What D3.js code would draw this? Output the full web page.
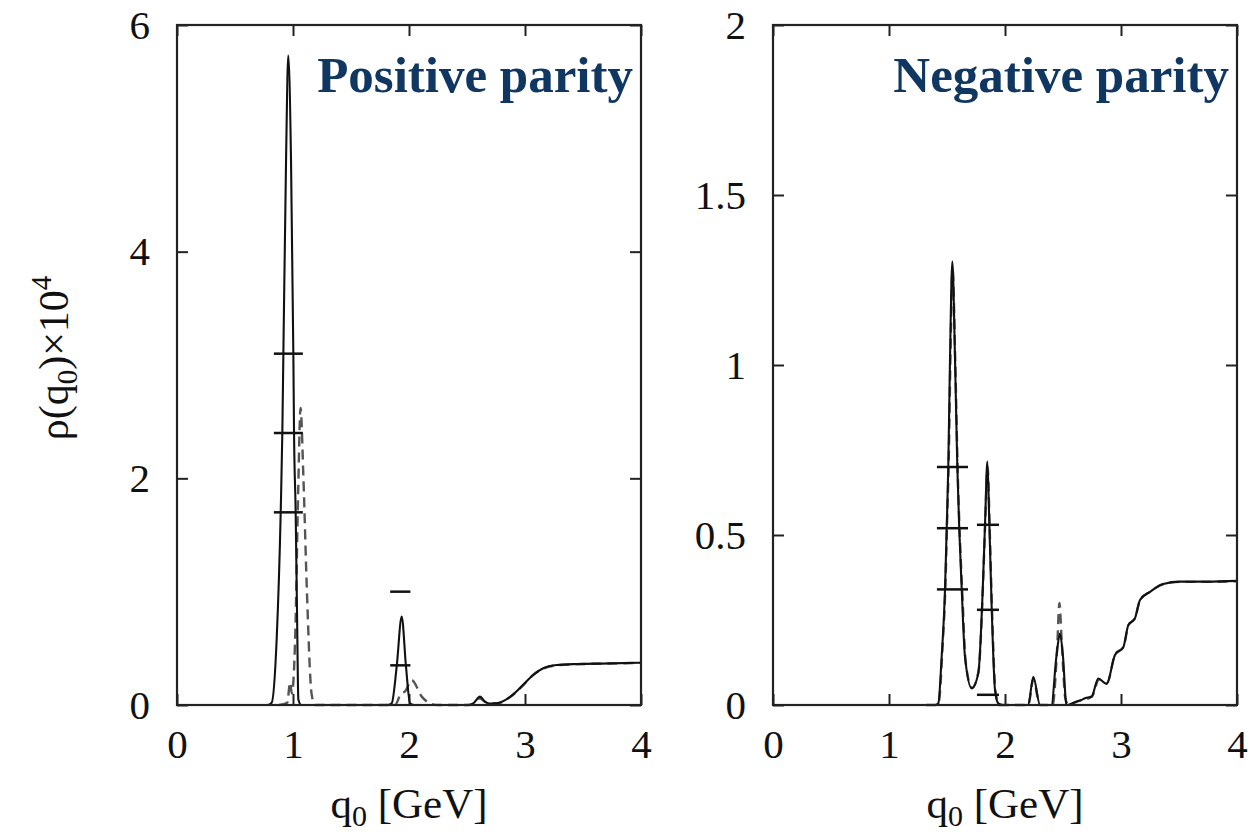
<!DOCTYPE html>
<html>
<head>
<meta charset="utf-8">
<script src="https://cdn.jsdelivr.net/npm/d3@7/dist/d3.min.js"></script>
<style>
  html, body { margin: 0; padding: 0; background: #fff; }
  svg { display: block; }
  .tick text { font-family: "Liberation Serif", "DejaVu Serif", serif; font-size: 41px; fill: #111; }
  .axis path.domain { display: none; }
  .axis line { stroke: #222; stroke-width: 2px; }
</style>
</head>
<body>
<svg id="chart" width="1256" height="837"></svg>
<script>
// Spectral function rho(q0) x 10^4 versus q0 [GeV], positive and negative parity channels.

const xTicks = [0, 1, 2, 3, 4];
const posYTicks = [0, 2, 4, 6];
const negYTicks = [0, 0.5, 1, 1.5, 2];
const posTitle = "Positive parity";
const negTitle = "Negative parity";

// Positive parity: solid spectrum [q0, rho]
const posSolid = [
  [0.60, 0], [0.78, 0], [0.816, 0.02], [0.86, 0.6], [0.894, 1.7], [0.908, 2.4], [0.917, 3.1],
  [0.94, 4.8], [0.959, 5.73], [0.983, 4.8], [1.003, 3.1], [1.009, 2.4], [1.023, 1.7],
  [1.035, 0.8], [1.046, 0.05], [1.07, 0], [1.82, 0], [1.851, 0.015], [1.894, 0.34],
  [1.937, 0.78], [1.974, 0.34], [2.009, 0.015], [2.05, 0], [2.50, 0], [2.554, 0.015],
  [2.612, 0.074], [2.655, 0.03], [2.70, 0.012], [2.756, 0.015], [2.87, 0.07], [2.986, 0.18],
  [3.07, 0.265], [3.157, 0.324], [3.273, 0.353], [3.446, 0.362], [3.733, 0.367], [4.0, 0.373]
];
// Positive parity: dashed spectrum
const posDashed = [
  [0.88, 0], [0.95, 0.02], [0.975, 0.2], [0.99, 0.1], [1.02, 0.64], [1.045, 1.9], [1.065, 2.62],
  [1.09, 2.0], [1.12, 1.0], [1.16, 0.1], [1.19, 0], [1.88, 0], [1.93, 0.1], [1.966, 0.12],
  [2.023, 0.22], [2.11, 0.074], [2.18, 0.015], [2.25, 0], [2.52, 0], [2.56, 0.015], [2.61, 0.06],
  [2.66, 0.025], [2.76, 0.015], [2.87, 0.07], [2.99, 0.18], [3.07, 0.265], [3.16, 0.322],
  [3.27, 0.35], [3.45, 0.36], [3.73, 0.366], [4.0, 0.372]
];
// Positive parity: horizontal markers [centre, half width, level]
const posMarks = [
  [0.96, 0.125, 3.1], [0.96, 0.125, 2.4], [0.96, 0.125, 1.7],
  [1.925, 0.087, 1.0], [1.925, 0.087, 0.35]
];

// Negative parity: solid spectrum
const negSolid = [
  [1.30, 0], [1.40, 0], [1.425, 0.005], [1.454, 0.142], [1.483, 0.34], [1.497, 0.515],
  [1.511, 0.70], [1.526, 1.02], [1.546, 1.304], [1.569, 1.02], [1.589, 0.70], [1.606, 0.515],
  [1.627, 0.34], [1.655, 0.142], [1.713, 0.049], [1.77, 0.093], [1.808, 0.34], [1.828, 0.534],
  [1.848, 0.716], [1.865, 0.534], [1.885, 0.289], [1.914, 0.044], [1.942, 0.005], [1.98, 0],
  [2.20, 0], [2.244, 0.083], [2.302, 0], [2.40, 0], [2.443, 0.142], [2.474, 0.21],
  [2.50, 0.142], [2.53, 0], [2.60, 0.008], [2.66, 0.015], [2.69, 0.02], [2.747, 0.025],
  [2.804, 0.078], [2.876, 0.062], [2.948, 0.147], [3.02, 0.17], [3.063, 0.235], [3.12, 0.255],
  [3.164, 0.309], [3.25, 0.333], [3.365, 0.356], [3.51, 0.363], [3.74, 0.363], [4.0, 0.365]
];
// Negative parity: dashed spectrum
const negDashed = [
  [1.32, 0], [1.41, 0], [1.43, 0.01], [1.46, 0.16], [1.487, 0.36], [1.50, 0.53], [1.515, 0.72],
  [1.53, 1.03], [1.548, 1.28], [1.572, 1.0], [1.592, 0.69], [1.61, 0.5], [1.632, 0.33],
  [1.66, 0.13], [1.715, 0.05], [1.772, 0.1], [1.81, 0.35], [1.83, 0.54], [1.85, 0.70],
  [1.868, 0.52], [1.888, 0.28], [1.918, 0.04], [1.95, 0], [2.20, 0], [2.245, 0.075],
  [2.30, 0], [2.41, 0], [2.45, 0.17], [2.469, 0.30], [2.49, 0.18], [2.52, 0.02], [2.55, 0],
  [2.62, 0.01], [2.75, 0.025], [2.81, 0.075], [2.88, 0.065], [2.95, 0.15], [3.02, 0.17],
  [3.065, 0.235], [3.12, 0.255], [3.165, 0.309], [3.25, 0.333], [3.365, 0.356], [3.51, 0.362],
  [3.74, 0.362], [4.0, 0.364]
];
// Negative parity: horizontal markers
const negMarks = [
  [1.547, 0.134, 0.70], [1.547, 0.134, 0.52], [1.547, 0.134, 0.34],
  [1.853, 0.095, 0.53], [1.853, 0.095, 0.28], [1.853, 0.095, 0.03]
];

const svg = d3.select("#chart");
const serif = '"Liberation Serif", "DejaVu Serif", serif';

function panel(opts) {
  const { left, right, top, bottom, yMax, yTicks, yFmt, solid, dashed, marks, title } = opts;
  const x = d3.scaleLinear().domain([0, 4]).range([left, right]);
  const y = d3.scaleLinear().domain([0, yMax]).range([bottom, top]);
  const g = svg.append("g");

  // inward ticks on all four sides
  g.append("g").attr("class", "axis").attr("transform", `translate(0,${bottom})`)
    .call(d3.axisBottom(x).tickValues(xTicks).tickSize(-11).tickSizeOuter(0).tickPadding(24).tickFormat(d3.format("d")));
  g.append("g").attr("class", "axis").attr("transform", `translate(0,${top})`)
    .call(d3.axisTop(x).tickValues(xTicks).tickSize(-11).tickSizeOuter(0).tickFormat(""));
  g.append("g").attr("class", "axis").attr("transform", `translate(${left},0)`)
    .call(d3.axisLeft(y).tickValues(yTicks).tickSize(-11).tickSizeOuter(0).tickPadding(27).tickFormat(yFmt));
  g.append("g").attr("class", "axis").attr("transform", `translate(${right},0)`)
    .call(d3.axisRight(y).tickValues(yTicks).tickSize(-11).tickSizeOuter(0).tickFormat(""));

  const line = d3.line().x(d => x(d[0])).y(d => y(d[1])).curve(d3.curveMonotoneX);

  g.append("path").datum(dashed).attr("d", line)
    .attr("fill", "none").attr("stroke", "#555").attr("stroke-width", 2.4)
    .attr("stroke-dasharray", "10,6");
  g.append("path").datum(solid).attr("d", line)
    .attr("fill", "none").attr("stroke", "#111").attr("stroke-width", 2.1);

  g.selectAll("line.mark").data(marks).enter().append("line")
    .attr("class", "mark")
    .attr("x1", d => x(d[0] - d[1])).attr("x2", d => x(d[0] + d[1]))
    .attr("y1", d => y(d[2])).attr("y2", d => y(d[2]))
    .attr("stroke", "#111").attr("stroke-width", 2.5);

  // frame
  g.append("rect").attr("x", left).attr("y", top)
    .attr("width", right - left).attr("height", bottom - top)
    .attr("fill", "none").attr("stroke", "#222").attr("stroke-width", 2.2);

  // x axis title: q0 [GeV]
  const xt = g.append("text").attr("x", (left + right) / 2).attr("y", 818)
    .attr("text-anchor", "middle").attr("font-family", serif).attr("font-size", 43).attr("fill", "#111");
  xt.append("tspan").text("q");
  xt.append("tspan").attr("font-size", 30).attr("dy", 8).text("0");
  xt.append("tspan").attr("dy", -8).text(" [GeV]");

  // panel title
  g.append("text").attr("x", right - 8).attr("y", 92)
    .attr("text-anchor", "end").attr("font-family", serif).attr("font-weight", "bold")
    .attr("font-size", 51).attr("fill", "#0f3762").text(title);
}

panel({
  left: 177, right: 641, top: 25, bottom: 705, yMax: 6,
  yTicks: posYTicks, yFmt: d3.format("d"),
  solid: posSolid, dashed: posDashed, marks: posMarks, title: posTitle
});
panel({
  left: 773, right: 1237, top: 25, bottom: 705, yMax: 2,
  yTicks: negYTicks, yFmt: d => String(d),
  solid: negSolid, dashed: negDashed, marks: negMarks, title: negTitle
});

// y axis title: rho(q0) x 10^4
const yt = svg.append("text")
  .attr("transform", "translate(68,358) rotate(-90)")
  .attr("text-anchor", "middle").attr("font-family", serif).attr("font-size", 42).attr("fill", "#111");
yt.append("tspan").text("ρ(q");
yt.append("tspan").attr("font-size", 29).attr("dy", 9).text("0");
yt.append("tspan").attr("dy", -9).text(")×10");
yt.append("tspan").attr("font-size", 29).attr("dy", -17).text("4");
</script>
</body>
</html>
